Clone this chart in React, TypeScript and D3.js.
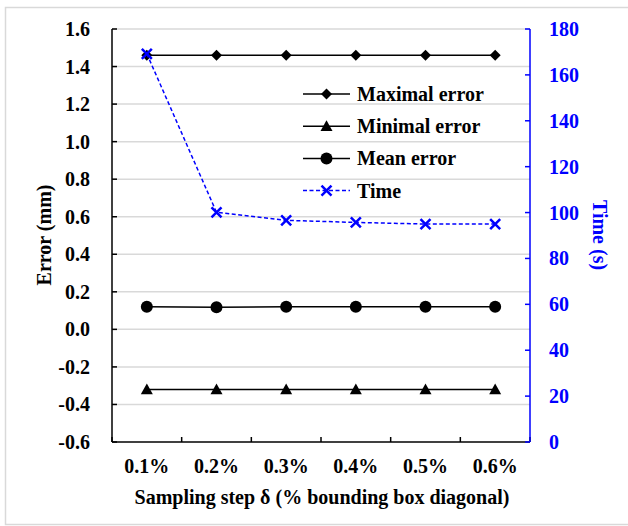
import React from "react";
import * as d3 from "d3";

const categories = ["0.1%", "0.2%", "0.3%", "0.4%", "0.5%", "0.6%"];
const maxError = [1.46, 1.46, 1.46, 1.46, 1.46, 1.46];
const minError = [-0.32, -0.32, -0.32, -0.32, -0.32, -0.32];
const meanError = [0.121, 0.118, 0.12, 0.12, 0.12, 0.12];
const timeValues = [169.2, 100.1, 96.6, 95.7, 95.0, 95.0];
const leftTicks = [-0.6, -0.4, -0.2, 0.0, 0.2, 0.4, 0.6, 0.8, 1.0, 1.2, 1.4, 1.6];
const rightTicks = [0, 20, 40, 60, 80, 100, 120, 140, 160, 180];
const legendItems = ["Maximal error", "Minimal error", "Mean error", "Time"];

const W = 628, H = 526;
const L = 112, R = 530, T = 29, B = 442;
const FONT = "serif";
const FS = 20;
const BLUE = "#0000ff";

function Marker({ kind, x, y }: { kind: string; x: number; y: number }) {
  if (kind === "diamond") {
    const s = 5.5;
    return <path d={`M${x},${y - s}L${x + s},${y}L${x},${y + s}L${x - s},${y}Z`} fill="#000" />;
  }
  if (kind === "triangle") {
    const s = 6;
    return <path d={`M${x},${y - s}L${x + s},${y + s * 0.8}L${x - s},${y + s * 0.8}Z`} fill="#000" />;
  }
  if (kind === "circle") {
    return <circle cx={x} cy={y} r={6} fill="#000" />;
  }
  const s = 5;
  return (
    <path d={`M${x - s},${y - s}L${x + s},${y + s}M${x - s},${y + s}L${x + s},${y - s}`} stroke={BLUE} strokeWidth={2.5} fill="none" />
  );
}

export default function App() {
  const x = d3.scaleBand<string>().domain(categories).range([L, R]);
  const cx = (c: string) => (x(c) as number) + x.bandwidth() / 2;
  const yL = d3.scaleLinear().domain([-0.6, 1.6]).range([B, T]);
  const yR = d3.scaleLinear().domain([0, 180]).range([B, T]);
  const line = d3.line<[number, number]>();

  const series = [
    { vals: maxError, kind: "diamond", scale: yL },
    { vals: minError, kind: "triangle", scale: yL },
    { vals: meanError, kind: "circle", scale: yL },
  ];

  const boundaries = categories.map((c) => x(c) as number).concat([R]);
  const legX1 = 303, legX2 = 350, legY0 = 94, legDY = 32.2;
  const kinds = ["diamond", "triangle", "circle", "x"];

  return (
    <svg width={W} height={H} style={{ position: "absolute", left: 0, top: 0 }} fontFamily={FONT}>
      <rect x={5.5} y={7.5} width={640} height={517} fill="#fff" stroke="#d9d9d9" strokeWidth={1.5} />
      {leftTicks.slice(1).map((t) => (
        <line key={t} x1={L} x2={R} y1={yL(t)} y2={yL(t)} stroke="#d9d9d9" strokeWidth={1.5} />
      ))}
      <line x1={L} x2={L} y1={T} y2={B} stroke="#000" strokeWidth={1.5} />
      {leftTicks.map((t) => (
        <g key={t}>
          <line x1={L} x2={L + 5} y1={yL(t)} y2={yL(t)} stroke="#000" strokeWidth={1.5} />
          <text x={90} y={yL(t) + 7} textAnchor="end" fontFamily={FONT} fontWeight="bold" fontSize={FS} fill="#000">
            {t.toFixed(1)}
          </text>
        </g>
      ))}
      <line x1={L} x2={R} y1={B} y2={B} stroke="#000" strokeWidth={1.5} />
      {boundaries.map((b, i) => (
        <line key={i} x1={b} x2={b} y1={B} y2={B - 5} stroke="#000" strokeWidth={1.5} />
      ))}
      {categories.map((c) => (
        <text key={c} x={cx(c)} y={473} textAnchor="middle" fontFamily={FONT} fontWeight="bold" fontSize={FS} fill="#000">
          {c}
        </text>
      ))}
      <line x1={R} x2={R} y1={T} y2={B} stroke={BLUE} strokeWidth={1.5} />
      {rightTicks.map((t) => (
        <g key={t}>
          <line x1={R - 5} x2={R} y1={yR(t)} y2={yR(t)} stroke={BLUE} strokeWidth={1.5} />
          <text x={549} y={yR(t) + 7} textAnchor="start" fontFamily={FONT} fontWeight="bold" fontSize={FS} fill={BLUE}>
            {t}
          </text>
        </g>
      ))}
      {series.map((s, si) => (
        <g key={si}>
          <path
            d={line(categories.map((c, i) => [cx(c), s.scale(s.vals[i])]) as [number, number][]) || ""}
            stroke="#000"
            strokeWidth={1.5}
            fill="none"
          />
          {categories.map((c, i) => (
            <Marker key={c} kind={s.kind} x={cx(c)} y={s.scale(s.vals[i])} />
          ))}
        </g>
      ))}
      <path
        d={line(categories.map((c, i) => [cx(c), yR(timeValues[i])]) as [number, number][]) || ""}
        stroke={BLUE}
        strokeWidth={1.5}
        strokeDasharray="4,2.5"
        fill="none"
      />
      {categories.map((c, i) => (
        <Marker key={c} kind="x" x={cx(c)} y={yR(timeValues[i])} />
      ))}
      {legendItems.map((name, i) => {
        const ly = legY0 + i * legDY;
        const isTime = i === 3;
        return (
          <g key={name}>
            <line x1={legX1} x2={legX2} y1={ly} y2={ly} stroke={isTime ? BLUE : "#000"} strokeWidth={1.5} strokeDasharray={isTime ? "4,2.5" : undefined} />
            <Marker kind={kinds[i]} x={(legX1 + legX2) / 2} y={ly} />
            <text x={357} y={ly + 7} fontFamily={FONT} fontWeight="bold" fontSize={FS} fill="#000">
              {name}
            </text>
          </g>
        );
      })}
      <text transform={`translate(51,235) rotate(-90)`} textAnchor="middle" fontFamily={FONT} fontWeight="bold" fontSize={FS} fill="#000">
        Error (mm)
      </text>
      <text transform={`translate(593,235) rotate(90)`} textAnchor="middle" fontFamily={FONT} fontWeight="bold" fontSize={FS} fill={BLUE}>
        Time (s)
      </text>
      <text x={322} y={504} textAnchor="middle" fontFamily={FONT} fontWeight="bold" fontSize={FS} fill="#000">
        Sampling step δ (% bounding box diagonal)
      </text>
    </svg>
  );
}
